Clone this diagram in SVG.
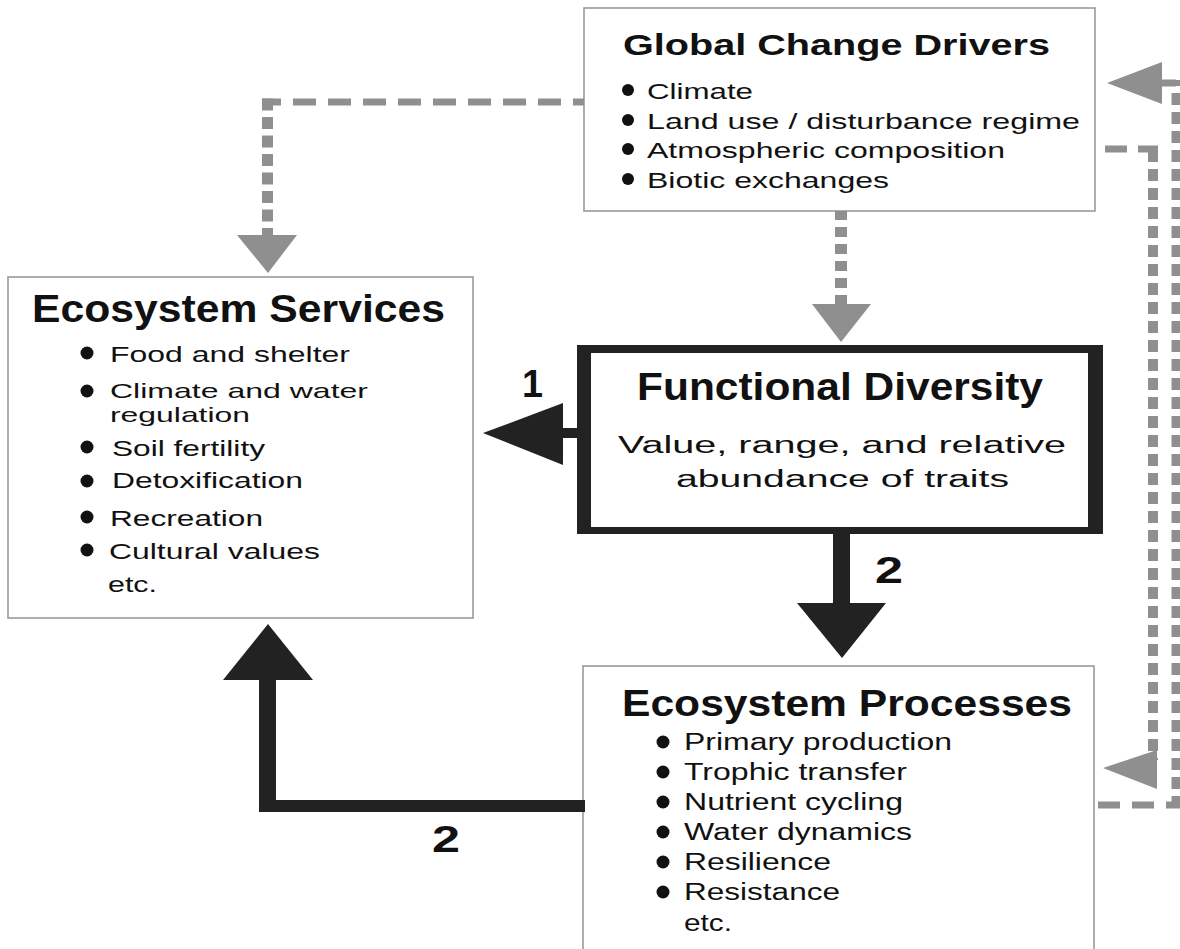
<svg xmlns="http://www.w3.org/2000/svg" width="1180" height="949" viewBox="0 0 1180 949">
<style>
.box{fill:#fff;stroke:#9a9a9a;stroke-width:1.6}
.t{font-family:"Liberation Sans",Arial,sans-serif;fill:#111}
.h{font-weight:bold}
.dot{fill:#111}
.gh{fill:none;stroke:#8f8f8f;stroke-width:7}
.gv{fill:none;stroke:#8f8f8f}
.ga{fill:#8f8f8f}
.blk{fill:#222}
</style>
<rect width="1180" height="949" fill="#fff"/>

<g id="global-change-drivers">
<rect class="box" x="584" y="8" width="511" height="203"/>
<text class="t h" x="623" y="55" font-size="30" textLength="427" lengthAdjust="spacingAndGlyphs">Global Change Drivers</text>
<g class="dot"><circle cx="628" cy="90" r="6"/><circle cx="628" cy="120" r="6"/><circle cx="628" cy="149" r="6"/><circle cx="628" cy="179" r="6"/></g>
<g class="t" font-size="22.5">
<text x="647" y="99" textLength="106" lengthAdjust="spacingAndGlyphs">Climate</text>
<text x="647" y="129" textLength="433" lengthAdjust="spacingAndGlyphs">Land use / disturbance regime</text>
<text x="647" y="158" textLength="358" lengthAdjust="spacingAndGlyphs">Atmospheric composition</text>
<text x="647" y="188" textLength="242" lengthAdjust="spacingAndGlyphs">Biotic exchanges</text>
</g>
</g>

<g id="ecosystem-services">
<rect class="box" x="8" y="277" width="465" height="341"/>
<text class="t h" x="32" y="322" font-size="38" textLength="413" lengthAdjust="spacingAndGlyphs">Ecosystem Services</text>
<g class="dot"><circle cx="87" cy="353" r="6.5"/><circle cx="87" cy="391" r="6.5"/><circle cx="87" cy="447" r="6.5"/><circle cx="87" cy="481" r="6.5"/><circle cx="87" cy="517" r="6.5"/><circle cx="87" cy="550" r="6.5"/></g>
<g class="t" font-size="22.5">
<text x="110" y="362" textLength="240" lengthAdjust="spacingAndGlyphs">Food and shelter</text>
<text x="110" y="398" font-size="21" textLength="258" lengthAdjust="spacingAndGlyphs">Climate and water</text>
<text x="110" y="422" font-size="21" textLength="140" lengthAdjust="spacingAndGlyphs">regulation</text>
<text x="112" y="456" textLength="153" lengthAdjust="spacingAndGlyphs">Soil fertility</text>
<text x="112" y="488" textLength="191" lengthAdjust="spacingAndGlyphs">Detoxification</text>
<text x="110" y="526" textLength="153" lengthAdjust="spacingAndGlyphs">Recreation</text>
<text x="109" y="559" textLength="211" lengthAdjust="spacingAndGlyphs">Cultural values</text>
<text x="108" y="592" textLength="49" lengthAdjust="spacingAndGlyphs">etc.</text>
</g>
</g>

<g id="functional-diversity">
<path class="blk" fill-rule="evenodd" d="M577 345H1103V534H577Z M591 353V527H1088V353Z"/>
<rect x="591" y="353" width="497" height="174" fill="#fff"/>
<text class="t h" x="637" y="400" font-size="38" textLength="406" lengthAdjust="spacingAndGlyphs">Functional Diversity</text>
<text class="t" x="618" y="453" font-size="23" textLength="448" lengthAdjust="spacingAndGlyphs">Value, range, and relative</text>
<text class="t" x="676" y="487" font-size="23" textLength="333" lengthAdjust="spacingAndGlyphs">abundance of traits</text>
</g>

<g id="ecosystem-processes">
<rect class="box" x="583" y="666" width="511" height="300"/>
<text class="t h" x="622" y="716" font-size="37" textLength="450" lengthAdjust="spacingAndGlyphs">Ecosystem Processes</text>
<g class="dot"><circle cx="663" cy="742" r="6.5"/><circle cx="663" cy="772" r="6.5"/><circle cx="663" cy="802" r="6.5"/><circle cx="663" cy="832" r="6.5"/><circle cx="663" cy="862" r="6.5"/><circle cx="663" cy="892" r="6.5"/></g>
<g class="t" font-size="23">
<text x="684" y="750" textLength="268" lengthAdjust="spacingAndGlyphs">Primary production</text>
<text x="684" y="780" textLength="223" lengthAdjust="spacingAndGlyphs">Trophic transfer</text>
<text x="684" y="810" textLength="219" lengthAdjust="spacingAndGlyphs">Nutrient cycling</text>
<text x="684" y="840" textLength="228" lengthAdjust="spacingAndGlyphs">Water dynamics</text>
<text x="684" y="870" textLength="147" lengthAdjust="spacingAndGlyphs">Resilience</text>
<text x="684" y="900" textLength="156" lengthAdjust="spacingAndGlyphs">Resistance</text>
<text x="684" y="931" textLength="48" lengthAdjust="spacingAndGlyphs">etc.</text>
</g>
</g>

<g id="connectors">
<path class="gh" d="M584 102H262" stroke-dasharray="23 12" stroke-dashoffset="12"/>
<path class="gv" d="M267.5 98.5V236" stroke-width="11" stroke-dasharray="12 6.5"/>
<polygon class="ga" points="237,235 297,235 268,273"/>
<path class="gv" d="M841 211V305" stroke-width="12" stroke-dasharray="10 7" stroke-dashoffset="1"/>
<polygon class="ga" points="812,304 871,304 841,342"/>
<path class="gh" d="M1094 805H1180" stroke-dasharray="22 12" stroke-dashoffset="-4"/>
<path class="gv" d="M1176 808V80" stroke-width="9" stroke-dasharray="12 7"/>
<path class="gh" d="M1176 83H1160"/>
<polygon class="ga" points="1162,62 1162,104 1107,83"/>
<path class="gh" d="M1105 149H1158" stroke-dasharray="22 11"/>
<path class="gv" d="M1153 146V760" stroke-width="10" stroke-dasharray="12 7" stroke-dashoffset="-4"/>
<polygon class="ga" points="1157,750 1157,789 1103,768"/>
<rect class="blk" x="561" y="428" width="17" height="10"/>
<polygon class="blk" points="563,403 563,465 483,433"/>
<rect class="blk" x="833" y="533" width="17" height="72"/>
<polygon class="blk" points="797,603 886,603 842,658"/>
<path class="blk" d="M585 800V812H259V679H276V800Z"/>
<polygon class="blk" points="223,680 313,680 268,624"/>
<g class="t h">
<text x="522" y="397" font-size="39" textLength="21" lengthAdjust="spacingAndGlyphs">1</text>
<text x="875" y="583" font-size="37" textLength="28" lengthAdjust="spacingAndGlyphs">2</text>
<text x="432" y="852" font-size="37" textLength="28" lengthAdjust="spacingAndGlyphs">2</text>
</g>
</g>
</svg>
